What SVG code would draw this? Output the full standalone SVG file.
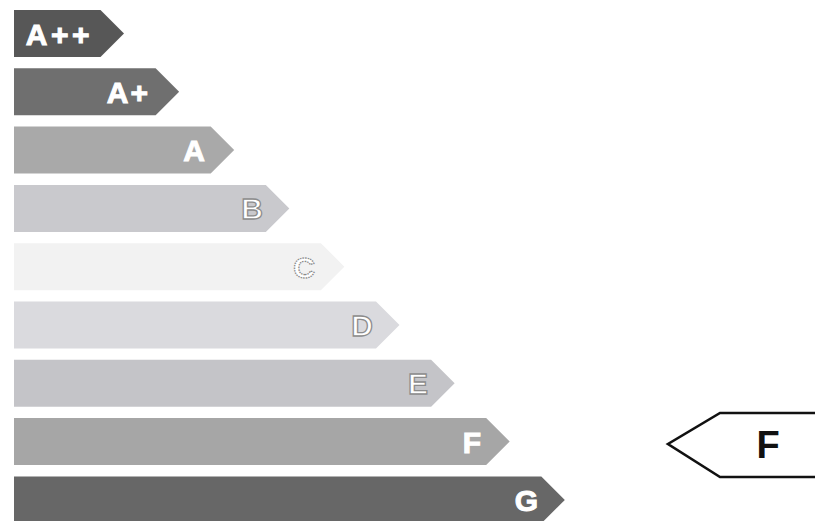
<svg xmlns="http://www.w3.org/2000/svg" width="815" height="521" viewBox="0 0 815 521">
<style>
.lbl{font-family:"Liberation Sans",Arial,sans-serif;font-weight:bold;font-size:30px;fill:#fff;stroke:#fff;stroke-width:1;text-anchor:end}
.ol{stroke:#8c8c8c;stroke-width:1.3}
.ind{fill:none;stroke:#111;stroke-width:2.6}
.big{font-family:"Liberation Sans",Arial,sans-serif;font-weight:bold;font-size:38px;fill:#111;text-anchor:middle}
</style>
<rect width="815" height="521" fill="#fff"/>
<g id="bar-app"><polygon points="14,10 100.5,10 124,33.5 100.5,57 14,57" fill="#575757"/><text class="lbl" x="93" y="44.5" letter-spacing="3.5">A++</text></g>
<g id="bar-ap"><polygon points="14,68.3 155.6,68.3 179.1,91.8 155.6,115.3 14,115.3" fill="#6f6f6f"/><text class="lbl" x="150" y="102.8" letter-spacing="2">A+</text></g>
<g id="bar-a"><polygon points="14,126.6 210.7,126.6 234.2,150.1 210.7,173.6 14,173.6" fill="#a9a9a9"/><text class="lbl" x="205" y="161.1">A</text></g>
<g id="bar-b"><polygon points="14,184.9 265.8,184.9 289.3,208.4 265.8,231.9 14,231.9" fill="#c9c9cd"/><text class="lbl ol" x="263" y="219.4">B</text></g>
<g id="bar-c"><polygon points="14,243.2 320.9,243.2 344.4,266.7 320.9,290.2 14,290.2" fill="#f2f2f2"/><text class="lbl ol" x="315" y="277.7" stroke-dasharray="1.5 1">C</text></g>
<g id="bar-d"><polygon points="14,301.5 376,301.5 399.5,325 376,348.5 14,348.5" fill="#dadade"/><text class="lbl ol" x="373" y="336">D</text></g>
<g id="bar-e"><polygon points="14,359.8 431.1,359.8 454.6,383.3 431.1,406.8 14,406.8" fill="#c4c4c8"/><text class="lbl ol" x="428" y="394.3">E</text></g>
<g id="bar-f"><polygon points="14,418.1 486.2,418.1 509.7,441.6 486.2,465.1 14,465.1" fill="#a6a6a6"/><text class="lbl" x="481" y="452.6">F</text></g>
<g id="bar-g"><polygon points="14,476.4 541.3,476.4 564.8,499.9 541.3,523.4 14,523.4" fill="#676767"/><text class="lbl" x="538" y="510.9">G</text></g>
<g id="indicator-f"><polyline class="ind" points="820,413 720,413 668,444 720,477 820,477"/><text class="big" x="768" y="458">F</text></g>
<g id="connectors"/>
</svg>
